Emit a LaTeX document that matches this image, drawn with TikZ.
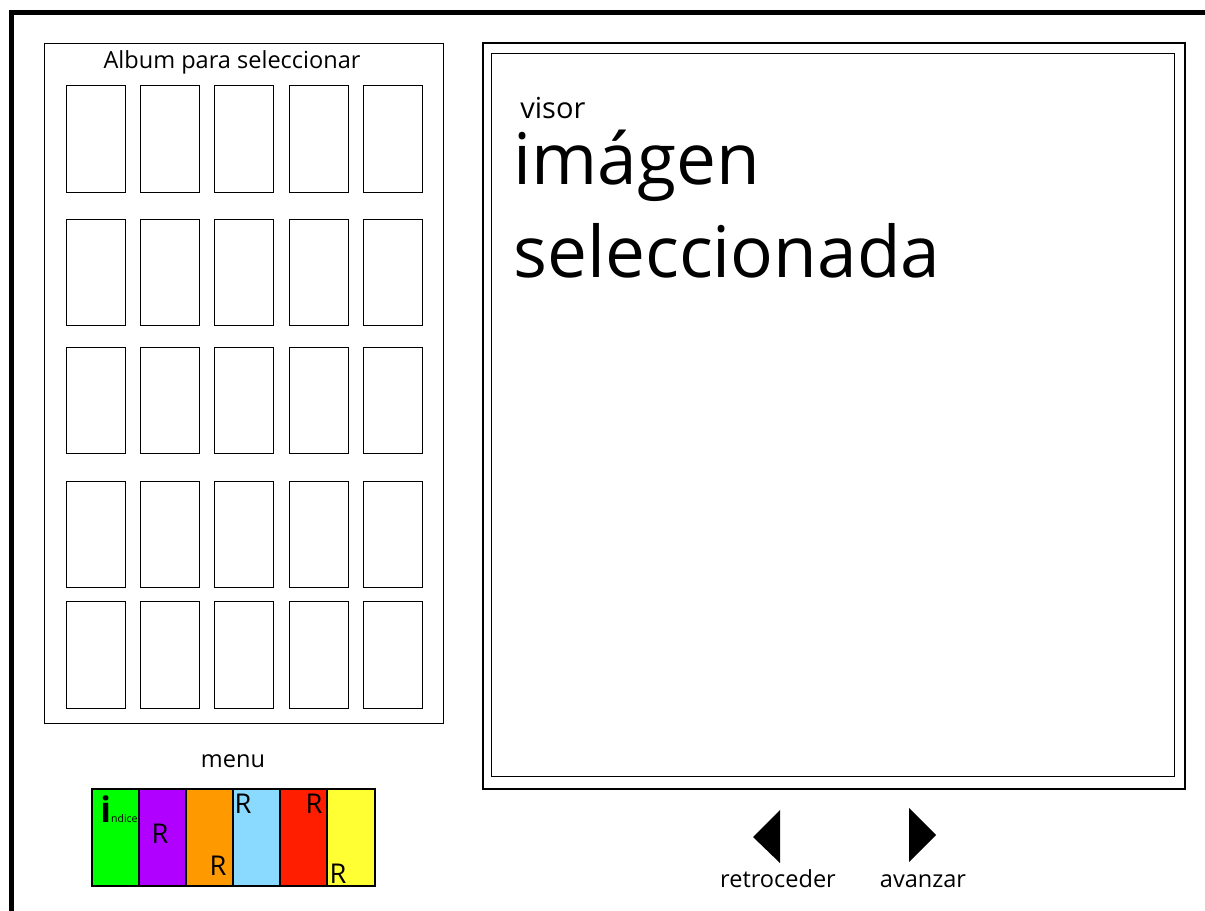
\documentclass[tikz,border=0pt]{standalone}
\usepackage{fontspec}
\setmainfont{Open Sans}
\usepackage{xcolor}
\definecolor{cellgreen}{HTML}{00FF00}
\definecolor{cellpurple}{HTML}{B000FF}
\definecolor{cellorange}{HTML}{FF9900}
\definecolor{cellblue}{HTML}{8AD9FF}
\definecolor{cellred}{HTML}{FF1E00}
\definecolor{cellyellow}{HTML}{FFFF33}
\usetikzlibrary{positioning}

\begin{document}
\begin{tikzpicture}[x=0.02cm,y=-0.02cm,
    thumb/.style={draw,line width=0.55pt},
    cell/.style={draw,line width=1.1pt},
    lbl/.style={font=\fontsize{13.4}{15}\selectfont,inner sep=0pt},
    rlbl/.style={font=\fontsize{15.5}{17}\selectfont,inner sep=0pt}]
  \useasboundingbox (0,0) rectangle (1205,911);
  % Page frame, cut off at right and bottom.
  \draw[line width=2.8pt] (11.5,911) |- (1205,12.5);
  % Album panel with its 5x5 thumbnails.
  \draw[line width=0.55pt] (44,43) rectangle (443,723);
  \node[lbl] (albumtitle) at (232,62) {Album para seleccionar};
  \foreach \x in {66,140,214,289,363}
    \foreach \y/\h in {85/192,219/325,347/453,481/587,601/708}
      \draw[thumb] (\x,\y) rectangle ++(59,\h-\y);
  % Viewer panel (double frame).
  \draw[line width=1.1pt] (483,43) rectangle (1185,789);
  \draw[line width=0.5pt] (491,53) rectangle (1174,776);
  \node[font=\fontsize{16.5}{18}\selectfont,anchor=west,inner sep=0pt] (visor) at (520,108) {visor};
  \node[font=\fontsize{40.5}{42}\selectfont,anchor=base west,inner sep=0pt] (imagen) at (513,185) {imágen};
  \node[font=\fontsize{40.5}{42}\selectfont,anchor=base west,inner sep=0pt] (selec) at (513,278) {seleccionada};
  % Colour menu.
  \node[lbl] (menu) at (233,761) {menu};
  \fill[cellgreen]  (92,789)  rectangle (139,886);
  \fill[cellpurple] (139,789) rectangle (186,886);
  \fill[cellorange] (186,789) rectangle (233,886);
  \fill[cellblue]   (233,789) rectangle (280,886);
  \fill[cellred]    (280,789) rectangle (327,886);
  \fill[cellyellow] (327,789) rectangle (375,886);
  \foreach \x in {139,186,233,280,327}
    \draw[cell] (\x,789) -- (\x,886);
  \draw[cell] (92,789) rectangle (375,886);
  \node[anchor=base west,inner sep=0pt] (indice) at (100,823)
    {\fontsize{20}{22}\selectfont\bfseries i\mdseries\fontsize{6}{7}\selectfont ndice};
  \node[rlbl] (rpurple) at (160,834) {R};
  \node[rlbl] (rorange) at (218,866) {R};
  \node[rlbl] (rblue)   at (243,804) {R};
  \node[rlbl] (rred)    at (314,804) {R};
  \node[rlbl] (ryellow) at (338,874) {R};
  % Navigation arrows.
  \fill (753,837) -- (780,810) -- (780,863) -- cycle;
  \fill (909,808) -- (936,835) -- (909,862) -- cycle;
  \node[lbl,anchor=base] (retro) at (778,888) {retroceder};
  \node[lbl,anchor=base] (avanz) at (923,888) {avanzar};
\end{tikzpicture}
\end{document}
